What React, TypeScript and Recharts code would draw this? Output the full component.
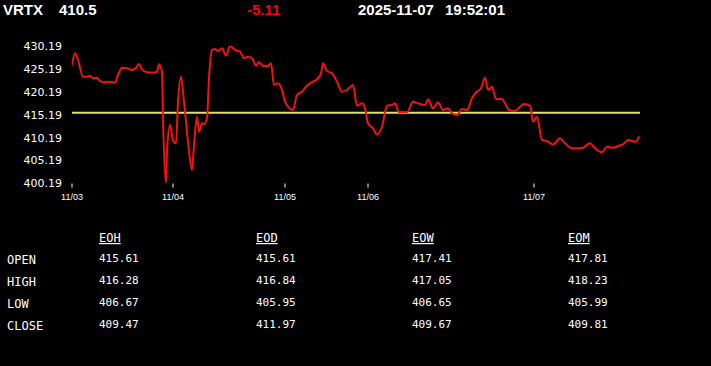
import React from 'react';
import { LineChart, Line, XAxis, YAxis, ReferenceLine } from 'recharts';

// header
const symbol = 'VRTX';
const lastPrice = '410.5';
const change = '-5.11';
const quoteDate = '2025-11-07';
const quoteTime = '19:52:01';
const prevClose = 415.61;

// intraday series (time index, price)
const times = [0, 3, 6, 11, 15, 18, 21, 25, 28, 33, 38, 43, 46, 50, 55, 60, 64, 67, 70, 75, 80, 85, 87, 90, 91, 94, 95, 98, 101, 104, 106, 109, 112, 116, 120, 122, 125, 127, 130, 132, 135, 137, 140, 143, 146, 150, 154, 158, 163, 168, 172, 176, 180, 184, 187, 191, 196, 199, 202, 206, 210, 213, 216, 221, 225, 230, 234, 238, 241, 246, 249, 251, 255, 260, 265, 270, 275, 281, 285, 290, 293, 296, 301, 305, 310, 315, 320, 323, 327, 335, 341, 346, 353, 356, 361, 366, 371, 376, 380, 385, 390, 395, 400, 404, 409, 413, 416, 420, 424, 430, 433, 437, 443, 448, 452, 458, 461, 465, 470, 475, 481, 488, 493, 500, 506, 511, 518, 523, 530, 535, 541, 547, 551, 556, 560, 564, 567];
const prices = [426.04, 428.6, 427.14, 423.49, 423.49, 423.71, 423.14, 423.27, 422.55, 422.27, 422.4, 422.18, 423.86, 425.46, 425.32, 424.95, 425.46, 426.26, 425.11, 424.45, 424.36, 424.58, 426.2, 424.58, 414.48, 400.23, 407.13, 412.95, 409.68, 408.96, 418.04, 423.49, 418.04, 409.31, 403.13, 408.59, 414.76, 411.49, 413.32, 413.1, 414.41, 423.14, 429.32, 429.54, 429.1, 429.69, 428.07, 430.19, 429.32, 428.95, 427.51, 427.86, 427.51, 425.89, 426.63, 425.89, 425.83, 426.42, 421.68, 422.05, 420.59, 418.04, 416.95, 416.23, 419.5, 420.22, 421.31, 422.05, 422.4, 423.14, 424.23, 426.42, 424.74, 424.23, 422.4, 420.22, 420.59, 421.68, 417.16, 417.69, 416.6, 413.32, 412.23, 410.92, 412.58, 417.16, 417.32, 417.69, 415.72, 415.72, 418.04, 417.69, 417.32, 418.56, 416.6, 417.91, 416.23, 416.6, 415.51, 415.13, 416.44, 416.23, 418.78, 420.09, 420.96, 423.27, 420.59, 421.31, 418.63, 418.63, 417.69, 416.23, 416.01, 416.95, 417.53, 417.16, 413.67, 414.76, 409.68, 409.46, 408.7, 410.05, 408.96, 407.87, 407.87, 408.0, 408.96, 407.87, 407.0, 408.22, 408.0, 408.44, 408.74, 409.68, 409.46, 409.31, 410.5];

const xTicks = [0, 101, 213, 296, 462];
const xTickLabels = ['11/03', '11/04', '11/05', '11/06', '11/07'];
const yTicks = [400.19, 405.19, 410.19, 415.19, 420.19, 425.19, 430.19];

// table
const tableCols = ['EOH', 'EOD', 'EOW', 'EOM'];
const rowLabels = ['OPEN', 'HIGH', 'LOW', 'CLOSE'];
const eohValues = [415.61, 416.28, 406.67, 409.47];
const eodValues = [415.61, 416.84, 405.95, 411.97];
const eowValues = [417.41, 417.05, 406.65, 409.67];
const eomValues = [417.81, 418.23, 405.99, 409.81];
const tableValues = [eohValues, eodValues, eowValues, eomValues];

const data = times.map((t, i) => ({ t, price: prices[i] }));
const colX = [99, 256, 412, 568];
const mono = '"DejaVu Sans Mono", "Liberation Mono", monospace';

export default function App() {
  return (
    <div style={{ position: 'absolute', left: 0, top: 0, width: 711, height: 366, background: '#000', overflow: 'hidden' }}>
      <svg width={711} height={366} style={{ position: 'absolute', left: 0, top: 0 }}>
        <g fontFamily='"Liberation Sans", Arial, sans-serif' fontWeight="bold" fontSize={15}>
          <text x={3} y={14.5} fill="#fff">{symbol}</text>
          <text x={59} y={14.5} fill="#fff">{lastPrice}</text>
          <text x={247} y={14.5} fill="#f00">{change}</text>
          <text x={358} y={14.5} fill="#fff">{quoteDate}</text>
          <text x={445} y={14.5} fill="#fff">{quoteTime}</text>
        </g>
        <g fontFamily={mono} fill="#fff">
          {tableCols.map((c, j) => (
            <text key={c} x={colX[j]} y={242} fontSize={12} textDecoration="underline">{c}</text>
          ))}
          {rowLabels.map((r, i) => (
            <text key={r} x={7} y={263.5 + 22 * i} fontSize={12}>{r}</text>
          ))}
          {tableValues.map((col, j) =>
            col.map((v, i) => (
              <text key={j + '-' + i} x={colX[j]} y={262 + 22 * i} fontSize={11}>{v.toFixed(2)}</text>
            ))
          )}
        </g>
      </svg>
      <div style={{ position: 'absolute', left: 0, top: 0 }}>
        <LineChart width={711} height={216} data={data} margin={{ top: 46, right: 71, bottom: 12.5, left: 0 }}>
          <XAxis
            type="number"
            dataKey="t"
            domain={[0, 568]}
            ticks={xTicks}
            interval={0}
            allowDataOverflow
            axisLine={false}
            tickSize={4}
            tickMargin={6}
            height={20}
            tickLine={{ stroke: '#fff' }}
            tick={{ fill: '#fff', fontSize: 9, fontFamily: '"Liberation Sans", Arial, sans-serif' }}
            tickFormatter={(v: number) => xTickLabels[xTicks.indexOf(v)] ?? ''}
          />
          <YAxis
            domain={[400.19, 430.19]}
            ticks={yTicks}
            interval={0}
            allowDataOverflow
            width={72}
            axisLine={false}
            tickLine={false}
            tickSize={0}
            tickMargin={10}
            tick={{ fill: '#fff', fontSize: 11, fontFamily: '"DejaVu Sans", sans-serif' }}
            tickFormatter={(v: number) => v.toFixed(2)}
          />
          <ReferenceLine y={prevClose} stroke="#e0e35c" strokeWidth={2} ifOverflow="visible" />
          <Line type="monotone" dataKey="price" stroke="#f31212" strokeWidth={2} dot={false} isAnimationActive={false} />
        </LineChart>
      </div>
    </div>
  );
}
